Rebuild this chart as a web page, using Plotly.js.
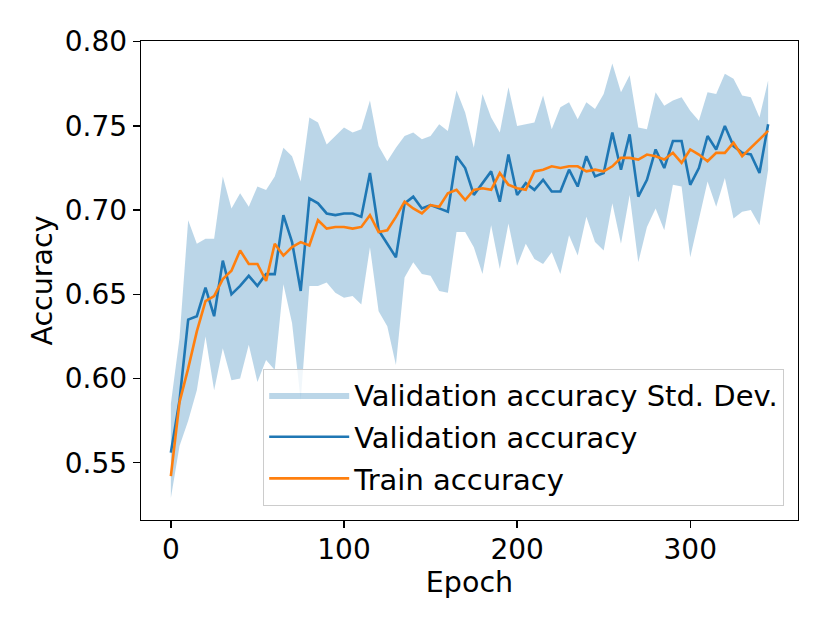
<!DOCTYPE html>
<html>
<head>
<meta charset="utf-8">
<script src="https://cdn.plot.ly/plotly-3.0.1.min.js"></script>
<style>
  html, body { margin: 0; padding: 0; background: #fff; }
  #chart { width: 830px; height: 623px; }
</style>
</head>
<body>
<div id="chart"></div>
<script>
  const epochs = [
    0, 5, 10, 15, 20, 25, 30, 35, 40, 45, 50, 55, 60, 65, 70, 75, 80, 85, 90, 95,
    100, 105, 110, 115, 120, 125, 130, 135, 140, 145, 150, 155, 160, 165, 170, 175, 180, 185, 190, 195,
    200, 205, 210, 215, 220, 225, 230, 235, 240, 245, 250, 255, 260, 265, 270, 275, 280, 285, 290, 295,
    300, 305, 310, 315, 320, 325, 330, 335, 340, 345
  ];

  const valAcc = [
    0.556, 0.587, 0.635, 0.637, 0.654, 0.637, 0.670, 0.650, 0.655, 0.661,
    0.655, 0.662, 0.662, 0.697, 0.681, 0.652, 0.707, 0.704, 0.698, 0.697,
    0.698, 0.698, 0.696, 0.722, 0.688, 0.680, 0.672, 0.704, 0.708, 0.701,
    0.703, 0.701, 0.699, 0.732, 0.725, 0.709, 0.716, 0.723, 0.705, 0.733,
    0.709, 0.716, 0.712, 0.718, 0.711, 0.711, 0.724, 0.714, 0.732, 0.720,
    0.722, 0.746, 0.724, 0.745, 0.708, 0.718, 0.736, 0.725, 0.741, 0.741,
    0.715, 0.725, 0.744, 0.736, 0.750, 0.738, 0.734, 0.733, 0.722, 0.751
  ];

  const trainAcc = [
    0.542, 0.586, 0.606, 0.628, 0.646, 0.649, 0.659, 0.664, 0.676, 0.668,
    0.668, 0.658, 0.680, 0.673, 0.678, 0.681, 0.679, 0.694, 0.689, 0.690,
    0.690, 0.689, 0.690, 0.697, 0.687, 0.688, 0.696, 0.705, 0.701, 0.698,
    0.703, 0.702, 0.710, 0.712, 0.706, 0.712, 0.713, 0.712, 0.722, 0.715,
    0.713, 0.712, 0.723, 0.724, 0.726, 0.725, 0.726, 0.726, 0.723, 0.724,
    0.723, 0.726, 0.731, 0.731, 0.730, 0.733, 0.732, 0.730, 0.734, 0.728,
    0.736, 0.733, 0.729, 0.734, 0.734, 0.740, 0.732, 0.737, 0.742, 0.747
  ];

  // mean + std of validation accuracy
  const valUpper = [
    0.585, 0.624, 0.694, 0.680, 0.683, 0.683, 0.720, 0.701, 0.710, 0.702,
    0.714, 0.712, 0.720, 0.737, 0.732, 0.717, 0.755, 0.752, 0.739, 0.744,
    0.749, 0.746, 0.748, 0.765, 0.738, 0.729, 0.737, 0.744, 0.746, 0.742,
    0.744, 0.751, 0.747, 0.771, 0.758, 0.737, 0.769, 0.755, 0.746, 0.773,
    0.750, 0.751, 0.752, 0.768, 0.748, 0.761, 0.764, 0.754, 0.764, 0.760,
    0.769, 0.787, 0.770, 0.780, 0.749, 0.748, 0.770, 0.762, 0.765, 0.767,
    0.759, 0.753, 0.770, 0.769, 0.781, 0.778, 0.768, 0.767, 0.755, 0.777
  ];

  // mean - std of validation accuracy
  const valLower = [
    0.529, 0.560, 0.575, 0.593, 0.625, 0.593, 0.618, 0.599, 0.600, 0.620,
    0.598, 0.611, 0.605, 0.656, 0.633, 0.587, 0.655, 0.655, 0.657, 0.651,
    0.648, 0.649, 0.644, 0.678, 0.640, 0.631, 0.608, 0.660, 0.669, 0.662,
    0.661, 0.652, 0.651, 0.687, 0.687, 0.678, 0.662, 0.691, 0.665, 0.692,
    0.667, 0.680, 0.671, 0.668, 0.675, 0.662, 0.685, 0.673, 0.696, 0.681,
    0.676, 0.704, 0.680, 0.709, 0.669, 0.690, 0.701, 0.688, 0.715, 0.714,
    0.672, 0.695, 0.717, 0.702, 0.719, 0.695, 0.699, 0.700, 0.691, 0.724
  ];

  const xTicks = [0, 100, 200, 300];
  const yTicks = [0.55, 0.60, 0.65, 0.70, 0.75, 0.80];

  const BLUE = '#1f77b4';
  const ORANGE = '#ff7f0e';
  const FONT = "'DejaVu Sans', sans-serif";

  const traces = [
    {
      x: epochs, y: valLower,
      type: 'scatter', mode: 'lines',
      line: { width: 0, color: BLUE },
      showlegend: false,
      hoverinfo: 'skip',
      legendgroup: 'std',
    },
    {
      x: epochs, y: valUpper,
      type: 'scatter', mode: 'lines',
      fill: 'tonexty',
      fillcolor: 'rgba(31,119,180,0.3)',
      line: { width: 0, color: BLUE },
      name: 'Validation accuracy Std. Dev.',
      legendgroup: 'std',
    },
    {
      x: epochs, y: valAcc,
      type: 'scatter', mode: 'lines',
      line: { color: BLUE, width: 2.6 },
      name: 'Validation accuracy',
      legendgroup: 'val',
    },
    {
      x: epochs, y: trainAcc,
      type: 'scatter', mode: 'lines',
      line: { color: ORANGE, width: 2.6 },
      name: 'Train accuracy',
      legendgroup: 'train',
    },
  ];

  const axisStyle = {
    showline: true,
    mirror: true,
    linecolor: '#000',
    linewidth: 1.3,
    ticks: 'outside',
    ticklen: 7,
    tickwidth: 1.3,
    tickcolor: '#000',
    showgrid: false,
    zeroline: false,
    automargin: false,
    tickfont: { family: FONT, size: 28, color: '#000' },
  };

  const layout = {
    width: 830,
    height: 623,
    paper_bgcolor: '#fff',
    plot_bgcolor: '#fff',
    margin: { l: 141, r: 32, t: 41, b: 103 },
    font: { family: FONT, size: 28, color: '#000' },
    xaxis: Object.assign({}, axisStyle, {
      range: [-17.25, 362.25],
      tickvals: xTicks,
      ticklabelstandoff: -3,
      title: { text: 'Epoch', font: { family: FONT, size: 28.5, color: '#000' }, standoff: 0 },
    }),
    yaxis: Object.assign({}, axisStyle, {
      range: [0.516, 0.8004],
      tickvals: yTicks,
      tickformat: '.2f',
      title: { text: 'Accuracy', font: { family: FONT, size: 28.5, color: '#000' }, standoff: 3 },
    }),
    legend: {
      x: 0.979, xanchor: 'right',
      y: 0.03, yanchor: 'bottom',
      bgcolor: 'rgba(255,255,255,0.8)',
      bordercolor: '#cccccc',
      borderwidth: 1,
      font: { family: FONT, size: 29, color: '#000' },
      itemwidth: 80,
      traceorder: 'grouped',
      tracegroupgap: 1,
    },
    showlegend: true,
  };

  Plotly.newPlot('chart', traces, layout, { displayModeBar: false, staticPlot: true });
</script>
</body>
</html>
